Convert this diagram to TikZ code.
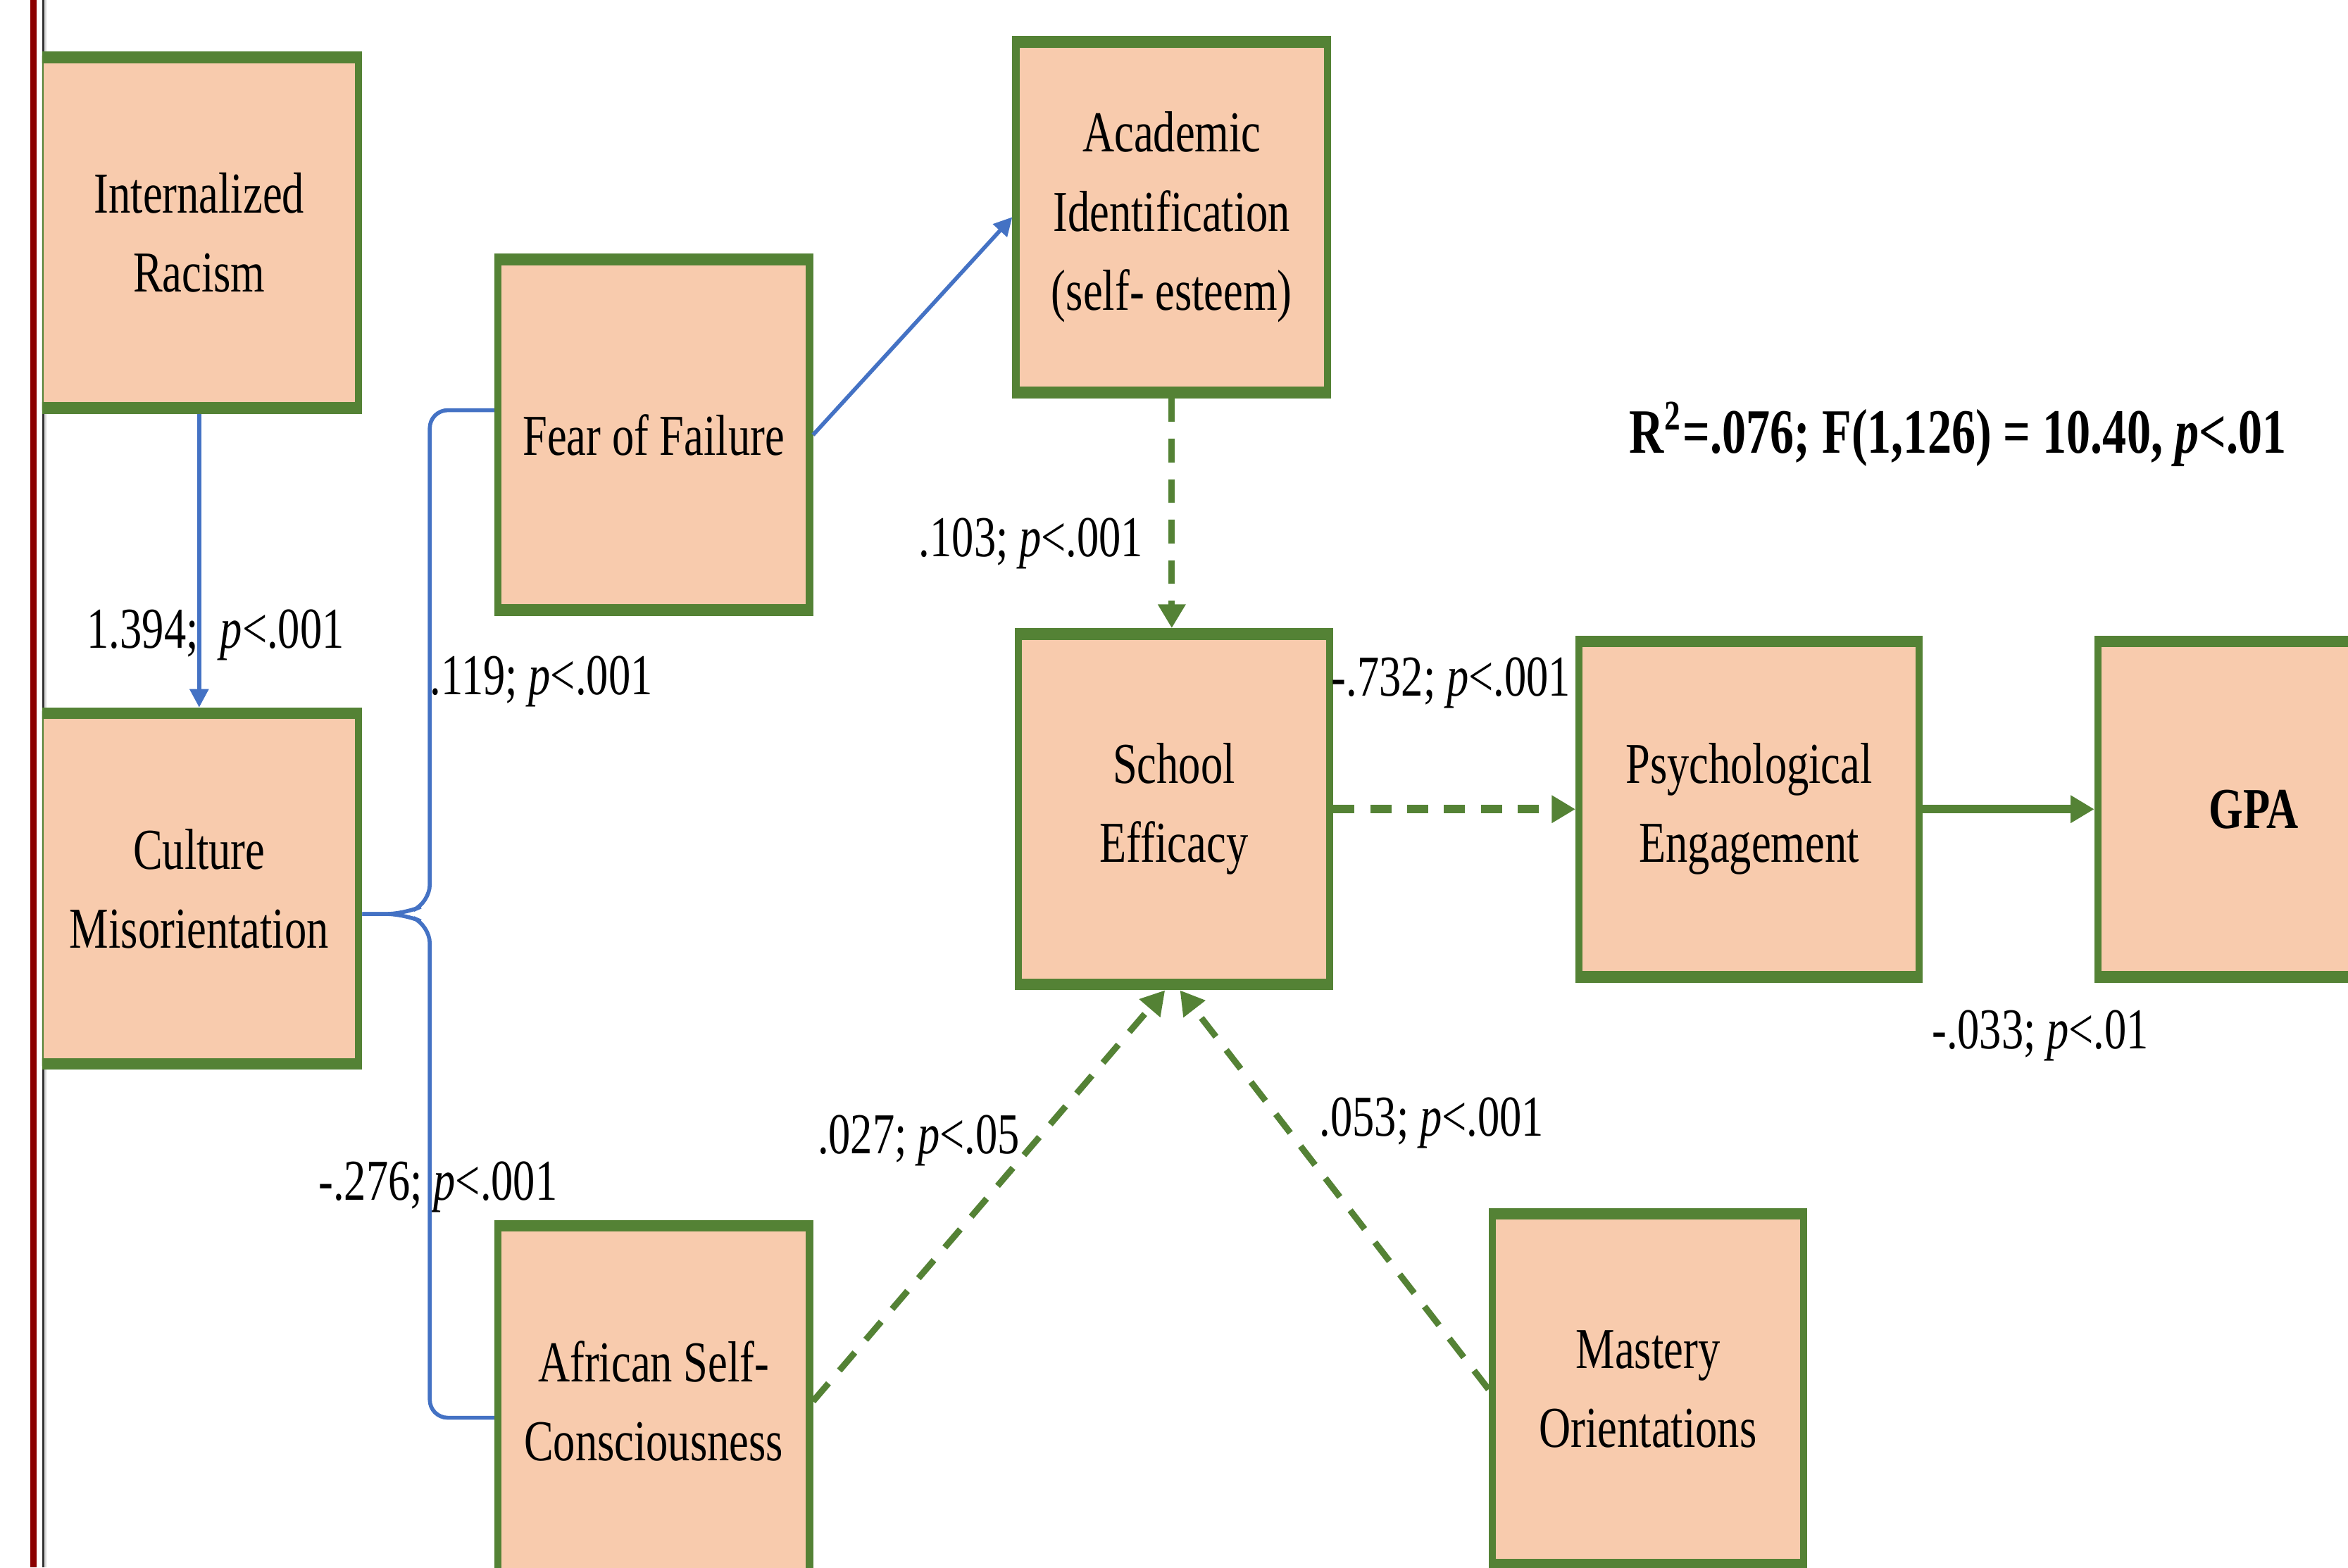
\documentclass[tikz,border=0pt]{standalone}
\usepackage{fontspec}
\setmainfont{Liberation Serif}[FakeStretch=0.76]
\usetikzlibrary{arrows.meta}

\definecolor{boxfill}{HTML}{F8CBAD}
\definecolor{boxgreen}{HTML}{548235}
\definecolor{linkblue}{HTML}{4472C4}
\definecolor{edgered}{HTML}{8B0000}
\newcommand{\boxfont}{\fontsize{11}{15}\selectfont}

\tikzset{
  varbox/.style={rectangle, draw=boxgreen, fill=boxfill, line width=1.4pt,
    minimum width=2.08cm, minimum height=2.37cm, inner sep=2pt, align=center,
    font=\boxfont,
    path picture={
      \fill[boxgreen] (path picture bounding box.north west) rectangle ([yshift=-1.5pt]path picture bounding box.north east);
      \fill[boxgreen] (path picture bounding box.south west) rectangle ([yshift=1.5pt]path picture bounding box.south east);}},
  coef/.style={font=\boxfont, inner sep=0pt},
  bluelink/.style={draw=linkblue, line width=0.75pt},
  greenlink/.style={draw=boxgreen, line width=1.2pt, dash pattern=on 4.5pt off 3.2pt},
  bluetip/.style={-{Triangle[length=3.5pt,width=3.5pt]}},
  greentip/.style={-{Triangle[length=4.5pt,width=5pt]}}
}

\begin{document}
\begin{tikzpicture}
\useasboundingbox (0,0) rectangle (15.68,10.47);
\clip (0,0) rectangle (15.68,10.47);

% margin rules
\draw[black!80, line width=0.4pt] (0.289,0) -- (0.289,10.47);
\draw[black!15, line width=0.4pt] (0.303,0) -- (0.303,10.47);

\begin{scope}
\clip (0.282,0) rectangle (15.68,10.47);

% variables
\node (IR) [varbox, minimum width=2.13cm] at (1.33,8.915) {Internalized\\Racism};
\node (CM) [varbox, minimum width=2.13cm, below of = IR, node distance=4.38cm] {Culture\\Misorientation};
\node (FF) [varbox] at (4.365,7.565) {Fear of Failure};
\node (AI) [varbox] at (7.825,9.02) {Academic\\Identification\\(self- esteem)};
\node (SE) [varbox] at (7.84,5.065) {School\\Efficacy};
\node (PE) [varbox, minimum width=2.27cm, minimum height=2.27cm, right of = SE, node distance=3.84cm] {Psychological\\Engagement};
\node (GPA) [varbox, minimum height=2.27cm, right of = PE, node distance=3.37cm] {\textbf{GPA}};
\node (ASC) [varbox] at (4.365,1.11) {African Self-\\Consciousness};
\node (MO) [varbox] at (11.005,1.19) {Mastery\\Orientations};

% coefficients
\node (c1) [coef] at (1.44,6.23) {1.394;\ \ \textit{p}<.001};
\node (c2) [coef] at (3.615,5.92) {.119; \textit{p}<.001};
\node (c3) [coef] at (2.925,2.54) {-.276; \textit{p}<.001};
\node (c4) [coef] at (6.885,6.84) {.103; \textit{p}<.001};
\node (c5) [coef] at (9.69,5.91) {-.732; \textit{p}<.001};
\node (c6) [coef] at (13.625,3.55) {-.033; \textit{p}<.01};
\node (c7) [coef] at (6.135,2.85) {.027; \textit{p}<.05};
\node (c8) [coef] at (9.56,2.97) {.053; \textit{p}<.001};
\node (fit) [coef, font=\fontsize{12}{14}\selectfont\bfseries] at (13.075,7.57)
  {R\textsuperscript{2}=.076; F(1,126) = 10.40, \textit{p}<.01};

% paths
\coordinate (tip) at ([yshift=-0.17cm]CM.east);
\draw[bluelink, bluetip] (IR) -- (CM);
\draw[bluelink, bluetip] (FF.east) -- (AI.west);
\draw[bluelink, rounded corners=0.12cm] (tip) -- (2.70,4.365) -- (2.87,4.44)
  -- (2.87,7.73) -- ([yshift=0.165cm]FF.west);
\draw[bluelink, rounded corners=0.12cm] (tip) -- (2.70,4.365) -- (2.87,4.29)
  -- (2.87,1.00) -- ([yshift=-0.11cm]ASC.west);

\draw[greenlink, greentip] (AI.south) -- (AI.south |- SE.north);
\draw[greenlink, line width=1.6pt, dash pattern=on 4pt off 3pt, greentip] (SE) -- (PE);
\draw[boxgreen, line width=1.6pt, greentip] (PE) -- (GPA);
\draw[greenlink, greentip] (ASC.east) -- ([xshift=-0.06cm]SE.south);
\draw[greenlink, greentip] (MO.west) -- ([xshift=0.04cm]SE.south);
\end{scope}

\draw[edgered, line width=1.2pt] (0.222,0) -- (0.222,10.47);
\end{tikzpicture}
\end{document}
